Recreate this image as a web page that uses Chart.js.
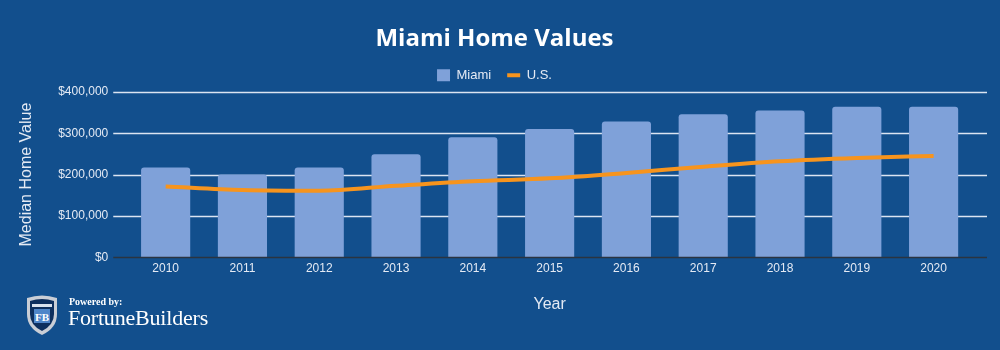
<!DOCTYPE html>
<html>
<head>
<meta charset="utf-8">
<script src="https://cdn.jsdelivr.net/npm/chart.js@4"></script>
<style>
  html, body { margin: 0; padding: 0; background: #124f8d; }
  #wrap { position: relative; width: 1000px; height: 350px; }
  #logo { position: absolute; left: 24px; top: 294px; width: 200px; height: 44px; }
  #logo .pw { position: absolute; left: 45px; top: 2px; font: bold 10px "Liberation Serif", serif; color: #fff; }
  #logo .fb { position: absolute; left: 44px; top: 11px; font: 22px "Liberation Serif", serif; color: #fff; letter-spacing: -0.2px; }
</style>
</head>
<body>
<div id="wrap">
  <canvas id="myChart" width="1000" height="350"></canvas>
  <div id="logo">
    <svg width="36" height="42" viewBox="0 0 36 42" style="position:absolute;left:0;top:0">
      <path d="M3 4 Q18 -1 33 4 L33 20 Q33 34 18 41 Q3 34 3 20 Z" fill="#c9ced6"/>
      <path d="M6 7 Q18 3 30 7 L30 20 Q30 31 18 37 Q6 31 6 20 Z" fill="#0d2f5e"/>
      <rect x="8" y="10" width="20" height="3" fill="#d9e2ee"/>
      <rect x="10" y="15" width="16" height="14" fill="#4f86c9"/>
      <text x="18" y="27" text-anchor="middle" font-family="Liberation Serif, serif" font-weight="bold" font-size="11" fill="#fff">FB</text>
    </svg>
    <div class="pw">Powered by:</div>
    <div class="fb">FortuneBuilders</div>
  </div>
</div>
<script>
const years = ['2010', '2011', '2012', '2013', '2014', '2015', '2016', '2017', '2018', '2019', '2020'];
const miamiValues = [217000, 200000, 217000, 249000, 290000, 310000, 328000, 346000, 355000, 364000, 364000];
const usValues = [171500, 163000, 161000, 173000, 184000, 191000, 204000, 219000, 232000, 240000, 245000];
const yTicks = [0, 100000, 200000, 300000, 400000];

const ctx = document.getElementById('myChart');
const textColor = '#e4eaf4';
const axisFont = { family: "'Liberation Sans', Arial, sans-serif", size: 12 };

const formatMoney = (v) => '$' + v.toLocaleString('en-US');

// gridlines in the reference reach past the first/last category
const extendedGrid = {
    id: 'extendedGrid',
    beforeDatasetsDraw(chart) {
        const { ctx, chartArea, scales } = chart;
        const left = chartArea.left - 14;
        const right = chartArea.right + 15;
        ctx.save();
        ctx.strokeStyle = '#dbe4f1';
        ctx.lineWidth = 1.3;
        yTicks.forEach(t => {
            if (t === 0) return;
            const y = Math.round(scales.y.getPixelForValue(t)) + 0.5;
            ctx.beginPath();
            ctx.moveTo(left, y);
            ctx.lineTo(right, y);
            ctx.stroke();
        });
        ctx.restore();
    },
    afterDatasetsDraw(chart) {
        const { ctx, chartArea, scales } = chart;
        const y = Math.round(scales.y.getPixelForValue(0)) + 0.5;
        ctx.save();
        ctx.strokeStyle = '#2b3440';
        ctx.lineWidth = 1.5;
        ctx.beginPath();
        ctx.moveTo(chartArea.left - 14, y);
        ctx.lineTo(chartArea.right + 15, y);
        ctx.stroke();
        ctx.restore();
    }
};

const config = {
    type: 'bar',
    data: {
        labels: years,
        datasets: [{
            label: 'Miami',
            data: miamiValues,
            backgroundColor: '#7fa1d9',
            borderRadius: { topLeft: 3, topRight: 3 },
            borderSkipped: 'start',
            barPercentage: 0.64,
            categoryPercentage: 1,
            pointStyle: 'rect',
            order: 1
        }, {
            type: 'line',
            label: 'U.S.',
            data: usValues,
            borderColor: '#f7941d',
            backgroundColor: '#f7941d',
            borderWidth: 4,
            pointRadius: 0,
            tension: 0.4,
            cubicInterpolationMode: 'monotone',
            pointStyle: 'line',
            order: 0
        }]
    },
    options: {
        responsive: false,
        animation: false,
        layout: { padding: { left: 17, right: 28, top: 0, bottom: 36 } },
        plugins: {
            title: {
                display: true,
                text: 'Miami Home Values',
                color: '#ffffff',
                font: { family: "'Open Sans', sans-serif", size: 24, weight: 'bold' },
                padding: { top: 25, bottom: -1 }
            },
            legend: {
                labels: {
                    color: textColor,
                    font: { family: "'Liberation Sans', Arial, sans-serif", size: 13 },
                    usePointStyle: true,
                    pointStyleWidth: 13,
                    boxHeight: 12,
                    padding: 16,
                    sort: (a, b) => a.datasetIndex - b.datasetIndex
                }
            },
            tooltip: { enabled: false }
        },
        scales: {
            x: {
                grid: { display: false, drawTicks: false, tickLength: 0 },
                border: { display: false },
                ticks: { color: textColor, font: axisFont, padding: 4 },
                title: {
                    display: true,
                    text: 'Year',
                    color: textColor,
                    font: { family: "'Liberation Sans', Arial, sans-serif", size: 16 },
                    padding: { top: 15, bottom: 0 }
                }
            },
            y: {
                min: 0,
                max: 400000,
                grid: { display: false, drawTicks: false, tickLength: 0 },
                border: { display: false },
                afterBuildTicks: (axis) => { axis.ticks = yTicks.map(v => ({ value: v })); },
                ticks: {
                    color: textColor,
                    font: axisFont,
                    padding: 19,
                    callback: (v) => formatMoney(v)
                },
                title: {
                    display: true,
                    text: 'Median Home Value',
                    color: textColor,
                    font: { family: "'Liberation Sans', Arial, sans-serif", size: 16 },
                    padding: { top: 0, bottom: 3 }
                }
            }
        }
    },
    plugins: [extendedGrid]
};

new Chart(ctx, config);
</script>
</body>
</html>
